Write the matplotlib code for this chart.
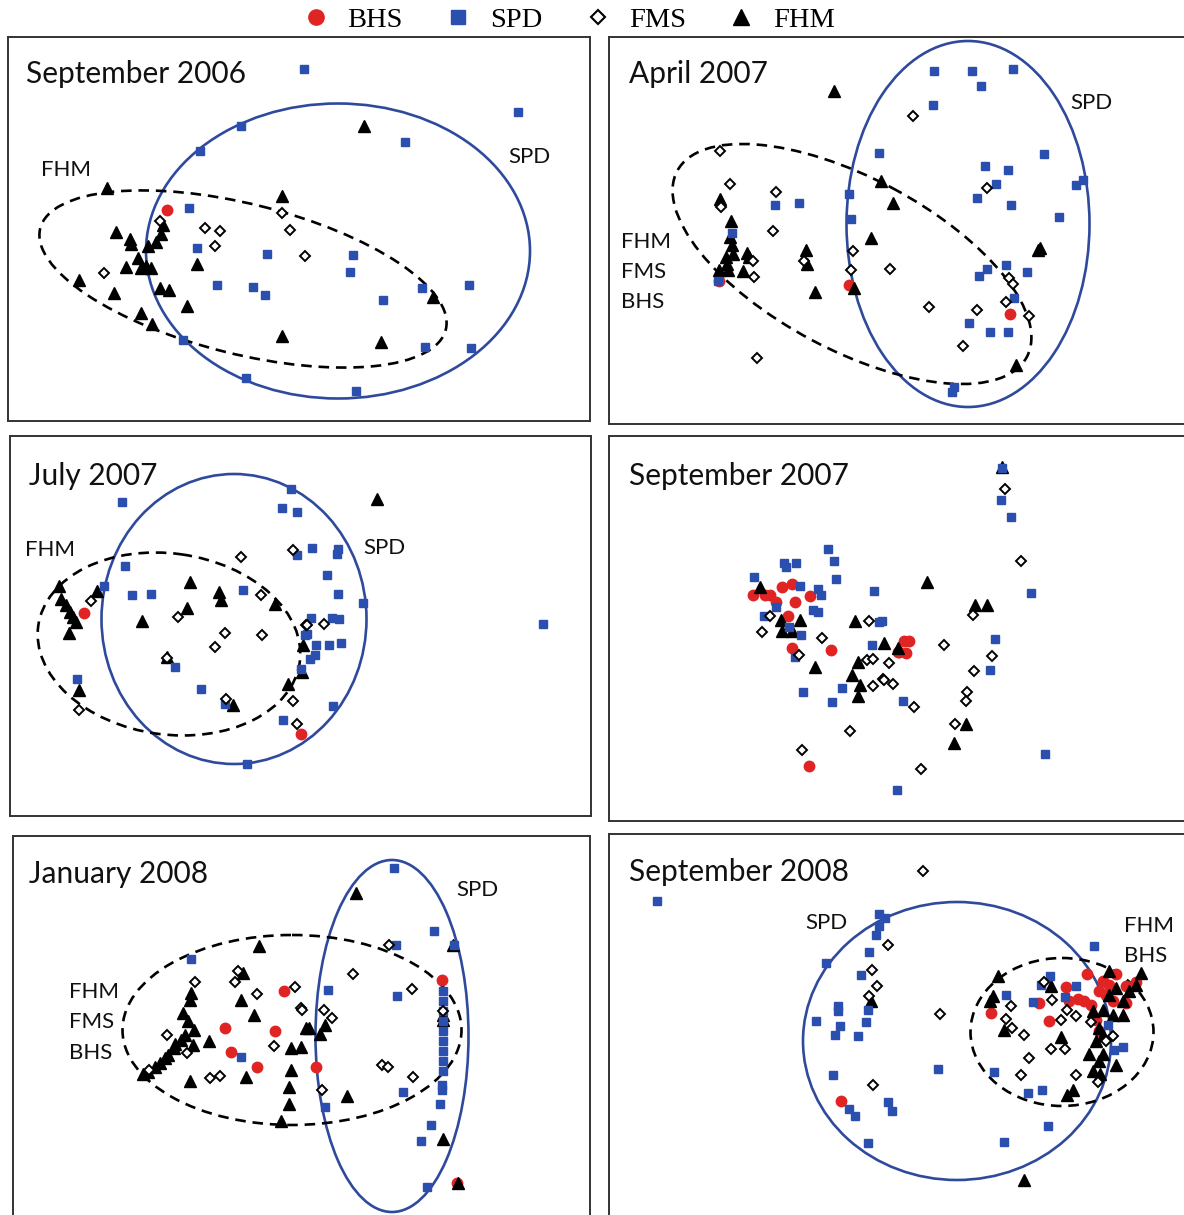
# NMDS-style panels: BHS / SPD / FMS / FHM by sampling date, with group ellipses.
# Point coordinates (its pixel space, y down).
import matplotlib
matplotlib.use("Agg")
import matplotlib.pyplot as plt
from matplotlib.patches import Ellipse
from matplotlib.lines import Line2D

W, H = 1184, 1215

# ---- September 2006 ----
S06_BHS = [(167, 210)]
S06_SPD = [(304, 69), (241, 126), (200, 151), (189, 208), (197, 248), (267, 254), (217, 285),
           (253, 287), (265, 295), (183, 340), (246, 378), (518, 112), (405, 142), (353, 255),
           (350, 272), (422, 288), (469, 285), (383, 300), (425, 347), (471, 348), (356, 391)]
S06_FMS = [(160, 221), (205, 228), (220, 231), (215, 246), (104, 273), (282, 213), (290, 230), (305, 256)]
S06_FHM = [(107, 188), (282, 196), (116, 232), (130, 239), (131, 244), (148, 246), (156, 242),
           (161, 234), (163, 225), (138, 258), (126, 267), (141, 268), (146, 266), (151, 268),
           (197, 264), (79, 280), (114, 293), (160, 288), (169, 290), (187, 306), (141, 313),
           (152, 324), (282, 336), (364, 126), (433, 297), (381, 342)]

# ---- April 2007 ----
A07_BHS = [(719, 281), (849, 285), (1010, 314)]
A07_SPD = [(879, 153), (775, 205), (799, 203), (849, 194), (851, 219), (732, 233), (718, 281),
           (934, 71), (972, 71), (1013, 69), (981, 86), (933, 105), (1044, 154), (985, 166),
           (1008, 170), (996, 184), (977, 198), (1011, 205), (1076, 185), (1083, 180), (1059, 217),
           (1006, 265), (987, 269), (979, 276), (1027, 272), (1014, 298), (969, 323), (990, 332),
           (1008, 332), (954, 387), (952, 392)]
A07_FMS = [(720, 151), (730, 184), (721, 207), (776, 192), (773, 231), (753, 261), (754, 277),
           (804, 261), (853, 251), (851, 270), (890, 269), (757, 358), (913, 116), (987, 188),
           (1009, 278), (1013, 284), (1006, 302), (1029, 316), (929, 307), (977, 310), (963, 346)]
A07_FHM = [(834, 91), (881, 181), (893, 203), (871, 238), (720, 199), (731, 221), (730, 237),
           (732, 245), (733, 254), (726, 257), (727, 264), (719, 270), (728, 270), (747, 253),
           (749, 257), (743, 271), (806, 250), (807, 264), (815, 292), (854, 288), (1040, 248),
           (1038, 250), (1016, 365)]

# ---- July 2007 ----
J07_BHS = [(84, 613), (301, 734)]
J07_SPD = [(122, 502), (291, 489), (282, 508), (297, 512), (297, 555), (125, 566), (104, 586),
           (132, 595), (151, 594), (243, 590), (175, 667), (201, 689), (77, 679), (225, 704),
           (283, 720), (247, 764), (301, 669), (305, 635), (312, 548), (338, 549), (337, 554),
           (327, 575), (338, 594), (363, 603), (311, 618), (332, 618), (339, 619), (307, 634),
           (316, 645), (329, 645), (341, 643), (315, 655), (310, 659), (333, 706), (543, 624)]
J07_FMS = [(91, 601), (241, 557), (293, 550), (178, 617), (225, 633), (215, 647), (262, 635),
           (261, 595), (306, 625), (167, 658), (226, 699), (293, 701), (297, 724), (79, 710),
           (307, 625), (324, 624)]
J07_FHM = [(59, 586), (97, 591), (61, 599), (66, 605), (70, 612), (73, 617), (76, 622), (69, 633),
           (190, 582), (219, 592), (221, 600), (187, 608), (142, 621), (275, 604), (167, 657),
           (79, 690), (233, 705), (288, 684), (377, 499), (303, 645), (302, 672)]

# ---- September 2007 ----
S07_BHS = [(753, 595), (765, 595), (770, 595), (776, 602), (782, 587), (792, 584), (795, 602),
           (810, 596), (788, 616), (792, 648), (831, 650), (809, 766), (898, 652), (904, 641),
           (909, 641), (899, 652), (906, 653)]
S07_SPD = [(828, 549), (834, 561), (784, 563), (786, 567), (796, 563), (754, 577), (836, 579),
           (800, 586), (818, 589), (821, 595), (813, 610), (818, 612), (764, 616), (874, 591),
           (879, 622), (882, 621), (801, 635), (789, 627), (872, 645), (795, 657), (803, 692),
           (842, 688), (832, 702), (903, 701), (897, 790), (776, 607), (1002, 468), (1001, 500),
           (1011, 517), (1031, 593), (995, 639), (990, 670), (1045, 754)]
S07_FMS = [(770, 616), (762, 632), (822, 638), (799, 655), (869, 621), (867, 660), (873, 659),
           (889, 663), (883, 679), (884, 680), (873, 686), (893, 684), (850, 731), (802, 750),
           (1005, 489), (1021, 561), (973, 615), (944, 645), (992, 656), (974, 671), (967, 692),
           (966, 701), (955, 724), (914, 707), (921, 769)]
S07_FHM = [(760, 587), (781, 620), (800, 620), (782, 631), (792, 631), (855, 621), (884, 643),
           (815, 667), (858, 662), (852, 675), (860, 685), (858, 696), (898, 648), (1002, 467),
           (927, 582), (975, 605), (987, 605), (966, 724), (954, 743)]

# ---- January 2008 ----
J08_BHS = [(284, 991), (225, 1028), (275, 1031), (231, 1052), (257, 1067), (442, 980),
           (316, 1067), (457, 1183)]
J08_SPD = [(191, 959), (241, 1057), (394, 868), (434, 931), (396, 945), (454, 945), (328, 990),
           (397, 996), (443, 991), (443, 1001), (443, 1011), (443, 1021), (443, 1031), (443, 1041),
           (443, 1051), (443, 1061), (443, 1071), (442, 1085), (442, 1090), (440, 1104),
           (431, 1125), (421, 1141), (403, 1092), (325, 1107), (427, 1187)]
J08_FMS = [(238, 971), (235, 982), (195, 982), (257, 994), (295, 987), (301, 1008), (167, 1035),
           (187, 1053), (274, 1046), (210, 1078), (220, 1076), (149, 1070), (389, 945), (353, 974),
           (412, 989), (302, 1010), (324, 1010), (332, 1018), (382, 1065), (388, 1067),
           (413, 1077), (322, 1090), (443, 1011)]
J08_FHM = [(259, 946), (243, 973), (191, 993), (190, 1000), (241, 1000), (254, 1015), (183, 1013),
           (188, 1021), (194, 1030), (185, 1035), (181, 1040), (193, 1045), (175, 1044),
           (174, 1048), (168, 1055), (165, 1058), (160, 1063), (155, 1067), (148, 1072),
           (143, 1074), (209, 1041), (190, 1081), (246, 1077), (291, 1048), (301, 1047),
           (291, 1070), (289, 1087), (289, 1104), (281, 1121), (306, 1028), (356, 893), (453, 945),
           (309, 1028), (325, 1025), (320, 1034), (443, 1015), (443, 1020), (347, 1096),
           (443, 1139), (458, 1183)]

# ---- September 2008 ----
S08_BHS = [(841, 1101), (991, 1013), (1049, 1021), (1039, 1003), (1066, 987), (1087, 974),
           (1116, 974), (1103, 981), (1109, 985), (1078, 999), (1084, 1001), (1091, 1005),
           (1099, 991), (1106, 995), (1126, 986), (1136, 982), (1126, 1003), (1096, 1020),
           (1099, 1031), (1069, 1001), (1113, 1001)]
S08_SPD = [(657, 901), (879, 914), (885, 918), (879, 926), (876, 935), (869, 952), (826, 963),
           (861, 975), (838, 1006), (838, 1011), (868, 1010), (816, 1021), (840, 1026), (866, 1022),
           (835, 1035), (858, 1036), (833, 1075), (849, 1109), (855, 1116), (888, 1102),
           (892, 1111), (868, 1143), (1094, 946), (1050, 976), (1041, 985), (1006, 995),
           (1033, 1002), (1065, 997), (1076, 986), (994, 1072), (1028, 1093), (1042, 1090),
           (1048, 1126), (1004, 1142), (938, 1069), (1114, 1050), (1123, 1047), (1108, 1025)]
S08_FMS = [(888, 945), (872, 970), (877, 986), (869, 996), (873, 1085), (923, 871), (940, 1014),
           (1011, 1006), (1006, 1019), (1012, 1028), (1024, 1035), (1029, 1058), (1021, 1075),
           (1051, 1049), (1065, 1049), (1052, 1000), (1061, 1020), (1067, 1010), (1076, 1016),
           (1044, 982), (1091, 1022), (1076, 1075), (1098, 1082), (1106, 1041), (1113, 1036)]
S08_FHM = [(871, 1001), (998, 976), (993, 996), (990, 1001), (1004, 1030), (1051, 986),
           (1061, 1037), (1089, 1054), (1103, 1054), (1096, 1041), (1099, 1061), (1116, 1065),
           (1093, 1071), (1100, 1074), (1067, 1095), (1073, 1090), (1024, 1180), (1141, 973),
           (1093, 1011), (1103, 1010), (1109, 995), (1116, 988), (1123, 1001), (1129, 991),
           (1136, 985), (1109, 971), (1099, 1028), (1113, 1015), (1123, 1015), (1103, 1035)]

# group ellipses: (cx, cy, width, height, angle)
S06_ELL = dict(spd=(338, 251, 384, 295, 0), dash=(243, 279, 418, 150, 14))
A07_ELL = dict(spd=(968, 224, 243, 366, 0), dash=(852, 264, 396, 172, 28))
J07_ELL = dict(spd=(234, 619, 265, 290, 0), dash=(169, 644, 264, 181, 8))
S07_ELL = dict()
J08_ELL = dict(spd=(392, 1036, 153, 352, 0), dash=(292, 1030, 339, 190, 0))
S08_ELL = dict(spd=(957, 1041, 308, 278, 0), dash=(1062, 1032, 183, 148, 0))

RED = "#e02424"; BLUE = "#2a4fae"; EBLUE = "#2f4a9c"
TFONT = "Lato"

PANELS = [
    dict(title="September 2006", box=(8, 37, 590, 421), pos=(26, 74), data=(S06_BHS, S06_SPD, S06_FMS, S06_FHM),
         ell=S06_ELL, labels=[("FHM", 41, 170), ("SPD", 508, 157)]),
    dict(title="April 2007", box=(609, 37, 1200, 424), pos=(629, 74), data=(A07_BHS, A07_SPD, A07_FMS, A07_FHM),
         ell=A07_ELL, labels=[("SPD", 1070, 103), ("FHM", 621, 242), ("FMS", 621, 272), ("BHS", 621, 302)]),
    dict(title="July 2007", box=(10, 436, 591, 816), pos=(29, 476), data=(J07_BHS, J07_SPD, J07_FMS, J07_FHM),
         ell=J07_ELL, labels=[("FHM", 25, 550), ("SPD", 363, 548)]),
    dict(title="September 2007", box=(609, 436, 1200, 821), pos=(629, 476), data=(S07_BHS, S07_SPD, S07_FMS, S07_FHM),
         ell=S07_ELL, labels=[]),
    dict(title="January 2008", box=(13, 836, 590, 1230), pos=(29, 874), data=(J08_BHS, J08_SPD, J08_FMS, J08_FHM),
         ell=J08_ELL, labels=[("SPD", 456, 890), ("FHM", 69, 992), ("FMS", 69, 1022), ("BHS", 69, 1053)]),
    dict(title="September 2008", box=(609, 834, 1200, 1230), pos=(629, 872), data=(S08_BHS, S08_SPD, S08_FMS, S08_FHM),
         ell=S08_ELL, labels=[("SPD", 805, 923), ("FHM", 1124, 926), ("BHS", 1124, 956)]),
]

fig = plt.figure(figsize=(W / 100, H / 100), dpi=100)

for p in PANELS:
    l, t, r, b = p["box"]
    ax = fig.add_axes([l / W, 1 - b / H, (r - l) / W, (b - t) / H])
    ax.set_xlim(l, r); ax.set_ylim(b, t)
    ax.set_xticks([]); ax.set_yticks([])
    for s in ax.spines.values():
        s.set_linewidth(1.4); s.set_color("#333")
    bhs, spd, fms, fhm = p["data"]
    if "spd" in p["ell"]:
        cx, cy, w, h, a = p["ell"]["spd"]
        ax.add_patch(Ellipse((cx, cy), w, h, angle=a, fill=False, ec=EBLUE, lw=1.9, zorder=1))
    if "dash" in p["ell"]:
        cx, cy, w, h, a = p["ell"]["dash"]
        ax.add_patch(Ellipse((cx, cy), w, h, angle=a, fill=False, ec="black", lw=1.9,
                             ls=(0, (4, 2.6)), zorder=1))
    if bhs:
        ax.plot(*zip(*bhs), "o", color=RED, ms=7.5, mec=RED, ls="", zorder=2)
    ax.plot(*zip(*fhm), "^", color="black", ms=8, ls="", zorder=3)
    ax.plot(*zip(*spd), "s", color=BLUE, ms=6.3, mec=BLUE, ls="", zorder=4)
    ax.plot(*zip(*fms), "D", mfc="white", mec="black", mew=1.4, ms=4.6, ls="", zorder=5)
    ax.text(*p["pos"], p["title"], fontsize=21.5, family=TFONT, va="center", ha="left", color="#111")
    for txt, x, y in p["labels"]:
        ax.text(x, y, txt, fontsize=16, family=TFONT, va="center", ha="left", color="#111")

handles = [Line2D([], [], marker="o", color=RED, ls="", ms=11),
           Line2D([], [], marker="s", color=BLUE, ls="", ms=10),
           Line2D([], [], marker="D", mfc="white", mec="black", mew=1.5, ls="", ms=7),
           Line2D([], [], marker="^", color="black", ls="", ms=11)]
fig.legend(handles, ["BHS", "SPD", "FMS", "FHM"], loc="center", bbox_to_anchor=(0.48, 1 - 20 / H),
           ncol=4, frameon=False, prop=dict(family="Liberation Serif", size=20.5),
           handletextpad=0.6, columnspacing=1.45, handlelength=1.0, borderpad=0)

fig.savefig("out.png", dpi=100)
